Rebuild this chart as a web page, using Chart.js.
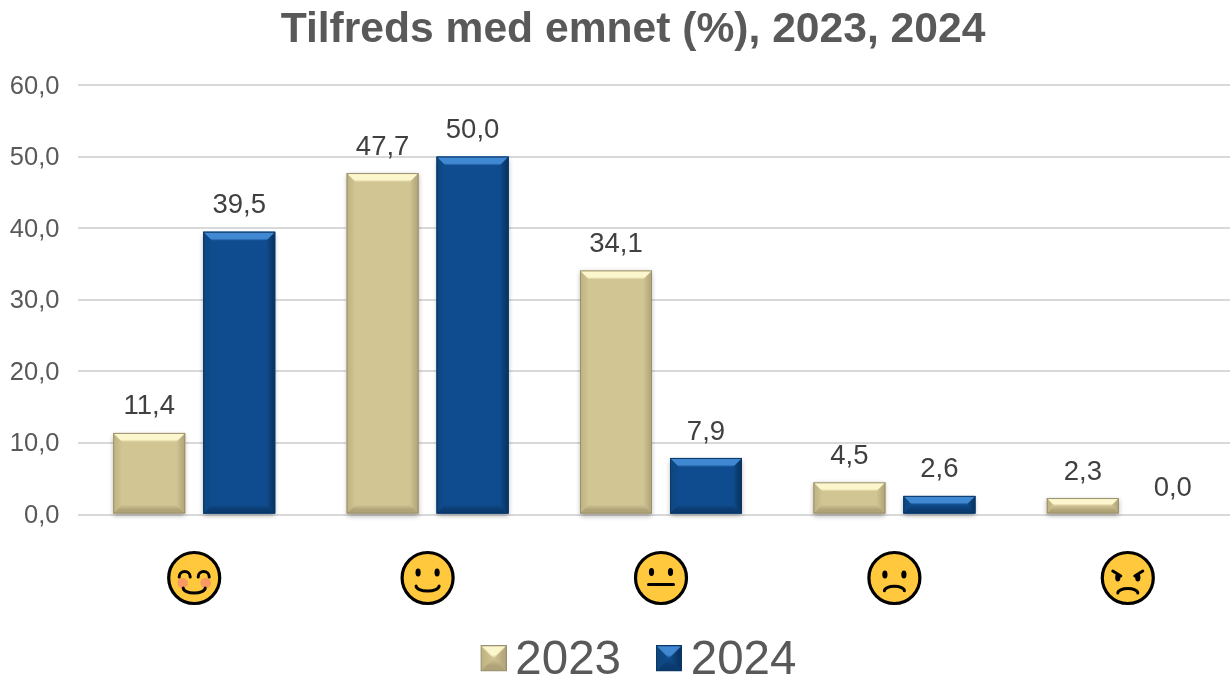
<!DOCTYPE html>
<html><head><meta charset="utf-8">
<style>html,body{margin:0;padding:0;background:#fff}#w{width:1230px;height:678px;overflow:hidden;position:relative}canvas{display:block}</style>
<script src="https://cdn.jsdelivr.net/npm/chart.js@4"></script></head>
<body><div id="w"><canvas id="c" width="1266" height="695" style="width:1266px;height:695px"></canvas></div>
<script>
const categories = ["😊","🙂","😐","🙁","😠"];
const faceKinds = ["blush","smile","neutral","sad","angry"];
const series2023 = [11.4,47.7,34.1,4.5,2.3];
const series2024 = [39.5,50.0,7.9,2.6,0.0];
const seriesNames = ["2023","2024"];
const tan = {base:'#D2C594',top:'#FBF6CC',left:'#C2B584',right:'#B4A87C',bottom:'#AFA377',edge:'#9A9070'};
const blue = {base:'#0F4C8F',top:'#4088D2',left:'#0E477F',right:'#0A3563',bottom:'#0B3A6E',edge:'#0B3766'};
const fmt = v => v.toFixed(1).replace('.',',');

function bevel(ctx,x0,y0,x1,y1,p,d){
  const w=x1-x0,h=y1-y0;
  if(h<=0) return;
  ctx.fillStyle=p.base;ctx.fillRect(x0,y0,w,h);
  const b=Math.min(d,h/2,w/2);
  const t=(pts,c,hold,gx0,gy0,gx1,gy1)=>{
    const g=ctx.createLinearGradient(gx0,gy0,gx1,gy1);
    g.addColorStop(0,c);g.addColorStop(hold,c);g.addColorStop(1,p.base);
    ctx.fillStyle=g;ctx.beginPath();
    pts.forEach((q,i)=>i?ctx.lineTo(q[0],q[1]):ctx.moveTo(q[0],q[1]));
    ctx.closePath();ctx.fill();
  };
  t([[x0,y0],[x0+b,y0+b],[x0+b,y1-b],[x0,y1]],p.left,0.2,x0,0,x0+b,0);
  t([[x1,y0],[x1-b,y0+b],[x1-b,y1-b],[x1,y1]],p.right,0.2,x1,0,x1-b,0);
  t([[x0,y1],[x1,y1],[x1-b,y1-b],[x0+b,y1-b]],p.bottom,0.4,0,y1,0,y1-b);
  t([[x0,y0],[x1,y0],[x1-b,y0+b],[x0+b,y0+b]],p.top,0.75,0,y0,0,y0+b);
  ctx.strokeStyle=p.edge;ctx.lineWidth=1;ctx.strokeRect(x0+.5,y0+.5,w-1,h-1);
}
function marker(p){
  const c=document.createElement('canvas');c.width=46;c.height=32;
  const g=c.getContext('2d');
  g.translate(20,0);
  bevel(g,0,0,26,26,p,13);
  return c;
}
const barBevel={id:'barBevel',
  afterLayout(ch){
    const shift=(box,dx)=>{box.left+=dx;box.right+=dx;};
    shift(ch.titleBlock,10.75);
    shift(ch.legend,13.75);
  },
  beforeDatasetsDraw(ch){
    const ctx=ch.ctx;
    ch.getSortedVisibleDatasetMetas().forEach(m=>m.data.forEach(el=>{
      const h=el.base-el.y; if(h<=0) return;
      ctx.save();ctx.shadowColor='rgba(0,0,0,.32)';ctx.shadowBlur=5;ctx.shadowOffsetY=2;
      ctx.fillStyle='#fff';ctx.fillRect(el.x-el.width/2,el.y,el.width,h);ctx.restore();
    }));
  },
  afterDatasetsDraw(ch){
    const ctx=ch.ctx;
    ch.getSortedVisibleDatasetMetas().forEach((m,i)=>{
      const p=i?blue:tan, vals=ch.data.datasets[i].data;
      m.data.forEach((el,j)=>{
        bevel(ctx,el.x-el.width/2,el.y,el.x+el.width/2,el.base,p,9);
        ctx.save();
        ctx.font='27.5px "Liberation Sans"';ctx.fillStyle='#404040';ctx.textAlign='center';ctx.textBaseline='middle';
        ctx.fillText(fmt(vals[j]),el.x,el.y-26);
        ctx.restore();
      });
    });
  }
};
function face(ctx,x,y,kind){
  ctx.save();ctx.translate(x,y);
  ctx.beginPath();ctx.arc(0,0,25.5,0,Math.PI*2);ctx.fillStyle='#FFC83D';ctx.fill();
  ctx.lineWidth=3.2;ctx.strokeStyle='#000';ctx.stroke();
  ctx.lineCap='round';ctx.lineWidth=3;ctx.fillStyle='#000';
  const eyes=(yy,dx)=>{[-dx,dx].forEach(s=>{ctx.beginPath();ctx.ellipse(s,yy,2.6,4,0,0,Math.PI*2);ctx.fill();});};
  const arc=(cx,cy,rx,ry,a,b)=>{ctx.beginPath();ctx.ellipse(cx,cy,rx,ry,0,a,b);ctx.stroke();};
  if(kind==='blush'){
    ctx.fillStyle='#F79B62';[-11.5,11.5].forEach(s=>{ctx.beginPath();ctx.arc(s,5,5.3,0,Math.PI*2);ctx.fill();});
    arc(-9.5,-1,5.5,5.5,Math.PI,0);arc(9.5,-1,5.5,5.5,Math.PI,0);
    arc(0,10,11,5,0,Math.PI);
  } else if(kind==='smile'){
    eyes(-5.5,9.5);arc(0,8,11.5,5,0,Math.PI);
  } else if(kind==='neutral'){
    eyes(-6,9.5);ctx.beginPath();ctx.moveTo(-12.5,6.5);ctx.lineTo(12.5,6.5);ctx.stroke();
  } else if(kind==='sad'){
    eyes(-3.5,9.5);arc(0,12.7,10,4.5,Math.PI,0);
  } else {
    eyes(-0.5,10);
    ctx.beginPath();ctx.moveTo(-15,-7);ctx.lineTo(-7,-2);ctx.stroke();
    ctx.beginPath();ctx.moveTo(15,-7);ctx.lineTo(7,-2);ctx.stroke();
    arc(0,15,10,4.5,Math.PI,0);
  }
  ctx.restore();
}
const faces={id:'faces',afterDraw(ch){
  const s=ch.scales.x;
  faceKinds.forEach((k,i)=>face(ch.ctx,s.getPixelForTick(i),578,k));
}};
const markers=[marker(tan),marker(blue)];
new Chart(document.getElementById('c'),{
  type:'bar',
  data:{labels:categories,datasets:[
    {label:seriesNames[0],data:series2023,backgroundColor:tan.base,categoryPercentage:0.771,barPercentage:0.8},
    {label:seriesNames[1],data:series2024,backgroundColor:blue.base,categoryPercentage:0.771,barPercentage:0.8}
  ]},
  options:{
    responsive:false,animation:false,devicePixelRatio:1,
    layout:{padding:{left:0,right:21.5,top:0,bottom:0}},
    plugins:{
      tooltip:{enabled:false},
      title:{display:true,text:'Tilfreds med emnet (%), 2023, 2024',color:'#595959',
        font:{family:'"Liberation Sans"',size:42.6,weight:'bold',lineHeight:1.2},padding:{top:5,bottom:28.88}},
      legend:{display:true,position:'bottom',padding:0,
        labels:{usePointStyle:true,pointStyleWidth:16,boxHeight:26,padding:30,color:'#595959',
          font:{family:'"Liberation Sans"',size:47.5,lineHeight:1.2},
          generateLabels:(ch)=>ch.data.datasets.map((d,i)=>({text:d.label,fontColor:'#595959',pointStyle:markers[i],datasetIndex:i,lineWidth:0,hidden:false}))}}
    },
    scales:{
      x:{grid:{display:false},border:{display:false},ticks:{display:false},
        afterFit(s){s.height=93;}},
      y:{min:0,max:60,
        grid:{color:'#D9D9D9',lineWidth:2,drawTicks:false},border:{display:false},
        ticks:{stepSize:10,padding:18,labelOffset:1.5,color:'#595959',font:{family:'"Liberation Sans"',size:25.5},callback:v=>fmt(v)},
        afterFit(s){s.width=77.5;}}
    }
  },
  plugins:[barBevel,faces]
});
</script></body></html>
